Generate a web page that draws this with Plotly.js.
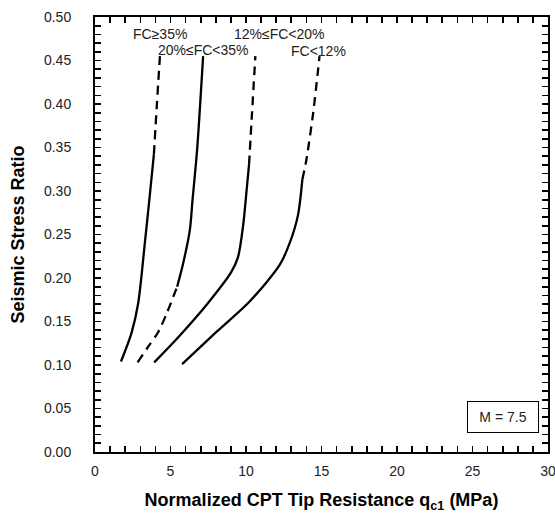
<!DOCTYPE html>
<html>
<head>
<meta charset="utf-8">
<script src="https://cdn.plot.ly/plotly-3.0.1.min.js"></script>
<style>html,body{margin:0;padding:0;background:#fff}#chart{width:555px;height:513px}</style>
</head>
<body>
<div id="chart"></div>
<script>
// FC >= 35%
const fc35SolidX = [1.72, 2.42, 2.86, 3.30, 3.64, 3.90];
const fc35SolidY = [0.104, 0.137, 0.171, 0.240, 0.297, 0.342];
const fc35DashX = [3.90, 4.10, 4.30];
const fc35DashY = [0.342, 0.400, 0.455];
// 20% <= FC < 35%
const fc20DashX = [2.82, 3.52, 4.19, 4.74, 5.44];
const fc20DashY = [0.103, 0.121, 0.138, 0.159, 0.190];
const fc20SolidX = [5.44, 5.84, 6.28, 6.46, 6.76, 7.16];
const fc20SolidY = [0.190, 0.217, 0.255, 0.290, 0.347, 0.455];
// 12% <= FC < 20%
const fc12SolidX = [3.92, 5.62, 7.38, 9.03, 9.47, 9.80, 10.02, 10.20];
const fc12SolidY = [0.103, 0.134, 0.169, 0.207, 0.224, 0.259, 0.297, 0.330];
const fc12DashX = [10.20, 10.40, 10.62];
const fc12DashY = [0.330, 0.390, 0.455];
// FC < 12%
const fcLtSolidX = [5.77, 8.04, 10.24, 12.23, 12.89, 13.44, 13.73];
const fcLtSolidY = [0.101, 0.138, 0.173, 0.215, 0.240, 0.272, 0.313];
const fcLtDashX = [13.73, 13.99, 14.45, 14.87];
const fcLtDashY = [0.313, 0.335, 0.390, 0.455];

const curveLabels = ['FC≥35%', '20%≤FC<35%', '12%≤FC<20%', 'FC<12%'];
const labelX = [4.3, 7.2, 12.2, 14.8];
const labelY = [0.481, 0.462, 0.481, 0.461];
const magnitudeText = 'M = 7.5';
const xTitle = '<b>Normalized CPT Tip Resistance q<sub>c1</sub> (MPa)</b>';
const yTitle = '<b>Seismic Stress Ratio</b>';

const solid = {color: '#000', width: 2.3, shape: 'spline', smoothing: 0.8};
const dashed = {color: '#000', width: 2.3, dash: '9px,6px', shape: 'spline', smoothing: 0.8};
function tr(x, y, line) { return {x, y, type: 'scatter', mode: 'lines', line, hoverinfo: 'skip', showlegend: false}; }

const data = [
  tr(fc35SolidX, fc35SolidY, solid), tr(fc35DashX, fc35DashY, dashed),
  tr(fc20DashX, fc20DashY, dashed), tr(fc20SolidX, fc20SolidY, solid),
  tr(fc12SolidX, fc12SolidY, solid), tr(fc12DashX, fc12DashY, dashed),
  tr(fcLtSolidX, fcLtSolidY, solid), tr(fcLtDashX, fcLtDashY, dashed)
];

const fam = 'Liberation Sans, Arial, sans-serif';
const annotations = curveLabels.map((t, i) => ({
  x: labelX[i], y: labelY[i], xref: 'x', yref: 'y', text: t, showarrow: false,
  font: {family: fam, size: 14, color: '#222'}
}));
annotations.push({
  x: 27.0, y: 0.0405, xref: 'x', yref: 'y', text: magnitudeText, showarrow: false,
  font: {family: fam, size: 14, color: '#222'},
  bordercolor: '#000', borderwidth: 1, borderpad: 7, width: 56, height: 16, bgcolor: '#fff'
});
annotations.push({
  x: -0.17, y: 0.5, xref: 'paper', yref: 'paper', text: yTitle, textangle: -90,
  showarrow: false, xanchor: 'center', yanchor: 'middle',
  font: {family: fam, size: 18, color: '#000'}
});

const tickStyle = {ticks: 'inside', ticklen: 6, tickwidth: 1.6, tickcolor: '#000'};

const layout = {
  width: 555, height: 513,
  margin: {l: 95, r: 7, t: 17, b: 61},
  font: {family: fam, size: 14, color: '#222'},
  showlegend: false,
  xaxis: Object.assign({
    range: [0, 30], dtick: 5, showgrid: false, zeroline: false,
    showline: true, linecolor: '#000', linewidth: 2, mirror: 'allticks',
    ticklabeloverflow: 'allow', ticklabelstandoff: 5,
    minor: Object.assign({dtick: 1, showgrid: false}, tickStyle),
    title: {text: xTitle, font: {family: fam, size: 18, color: '#000'}}
  }, tickStyle),
  yaxis: Object.assign({
    range: [0, 0.5], dtick: 0.05, tickformat: '.2f', showgrid: false, zeroline: false,
    showline: true, linecolor: '#000', linewidth: 2, mirror: 'allticks',
    ticklabelstandoff: 19,
    minor: Object.assign({dtick: 0.01, showgrid: false}, tickStyle)
  }, tickStyle),
  annotations: annotations
};

Plotly.newPlot('chart', data, layout, {staticPlot: true, displayModeBar: false});
</script>
</body>
</html>
